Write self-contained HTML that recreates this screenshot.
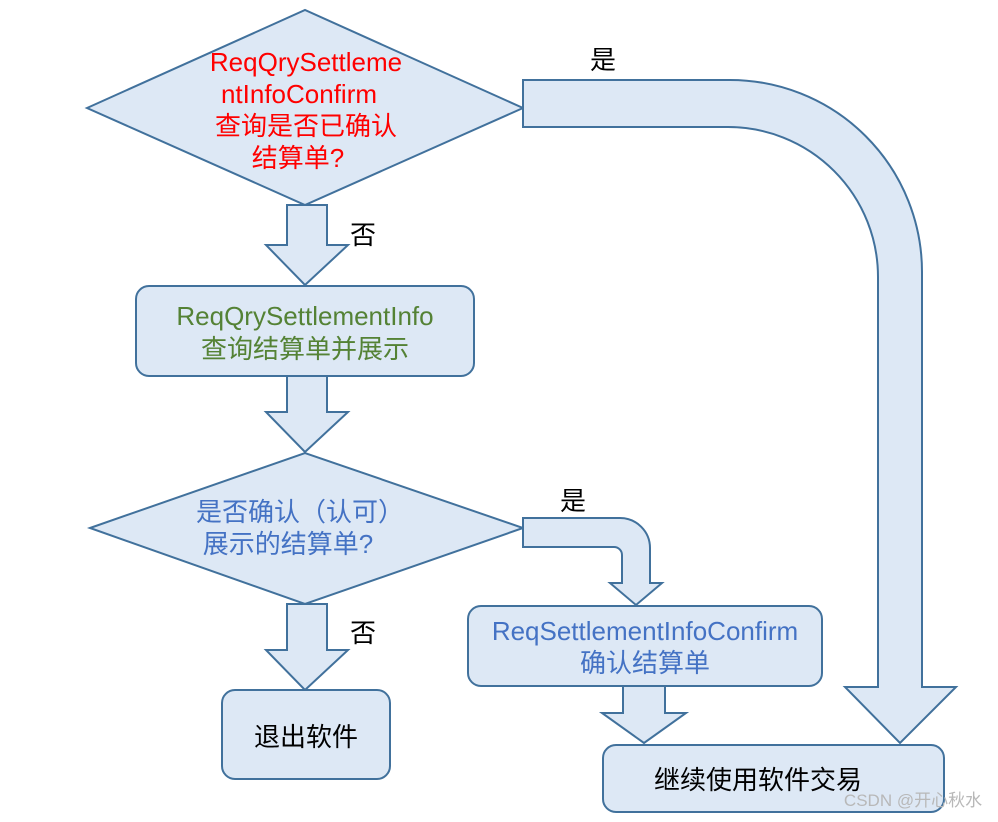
<!DOCTYPE html>
<html><head><meta charset="utf-8"><style>
body{margin:0;background:#fff}
text{font-family:"Liberation Sans","Noto Sans CJK SC",sans-serif;font-size:26px}
</style></head><body>
<svg width="998" height="817" xmlns="http://www.w3.org/2000/svg">
<g fill="#dde8f5" stroke="#41719c" stroke-width="2">
<polygon points="87,108 305,10 523,108 305,205"/>
<polygon points="287,205 327,205 327,245 348,245 305,285 266,245 287,245"/>
<rect x="136" y="286" width="338" height="90" rx="13"/>
<polygon points="287,376 327,376 327,412 348,412 305,452 266,412 287,412"/>
<polygon points="90,528 305,453 523,528 305,604"/>
<polygon points="287,604 327,604 327,650 348,650 305,690 266,650 287,650"/>
<rect x="222" y="690" width="168" height="89" rx="13"/>
<path d="M523,518 L620,518 A30,30 0 0 1 650,548 L650,583 L662,583 L636,605 L610,583 L622,583 L622,555 A8,8 0 0 0 614,547 L523,547 Z"/>
<rect x="468" y="606" width="354" height="80" rx="13"/>
<polygon points="623,686 665,686 665,713 686,713 644,743 602,713 623,713"/>
<path d="M523,80 L730,80 A192,192 0 0 1 922,272 L922,687 L956,687 L900,743 L845,687 L878,687 L878,277 A150,150 0 0 0 728,127 L523,127 Z"/>
<rect x="603" y="745" width="341" height="67" rx="13"/>
</g>
<g text-anchor="middle">
<g fill="#ff0000">
<text x="306" y="71">ReqQrySettleme</text>
<text x="299" y="103">ntInfoConfirm</text>
<text x="306" y="135">查询是否已确认</text>
<text x="298" y="167">结算单?</text>
</g>
<g fill="#548235">
<text x="305" y="325">ReqQrySettlementInfo</text>
<text x="305" y="358">查询结算单并展示</text>
</g>
<g fill="#4472c4">
<text x="300" y="521">是否确认（认可）</text>
<text x="288" y="553">展示的结算单?</text>
<text x="645" y="640">ReqSettlementInfoConfirm</text>
<text x="645" y="672">确认结算单</text>
</g>
<g fill="#000">
<text x="306" y="746">退出软件</text>
<text x="758" y="789">继续使用软件交易</text>
<text x="603" y="69">是</text>
<text x="363" y="244">否</text>
<text x="573" y="510">是</text>
<text x="363" y="642">否</text>
</g>
<text x="913" y="806" fill="#b8b8b8" style="font-size:17px">CSDN @开心秋水</text>
</g>
</svg>
</body></html>
